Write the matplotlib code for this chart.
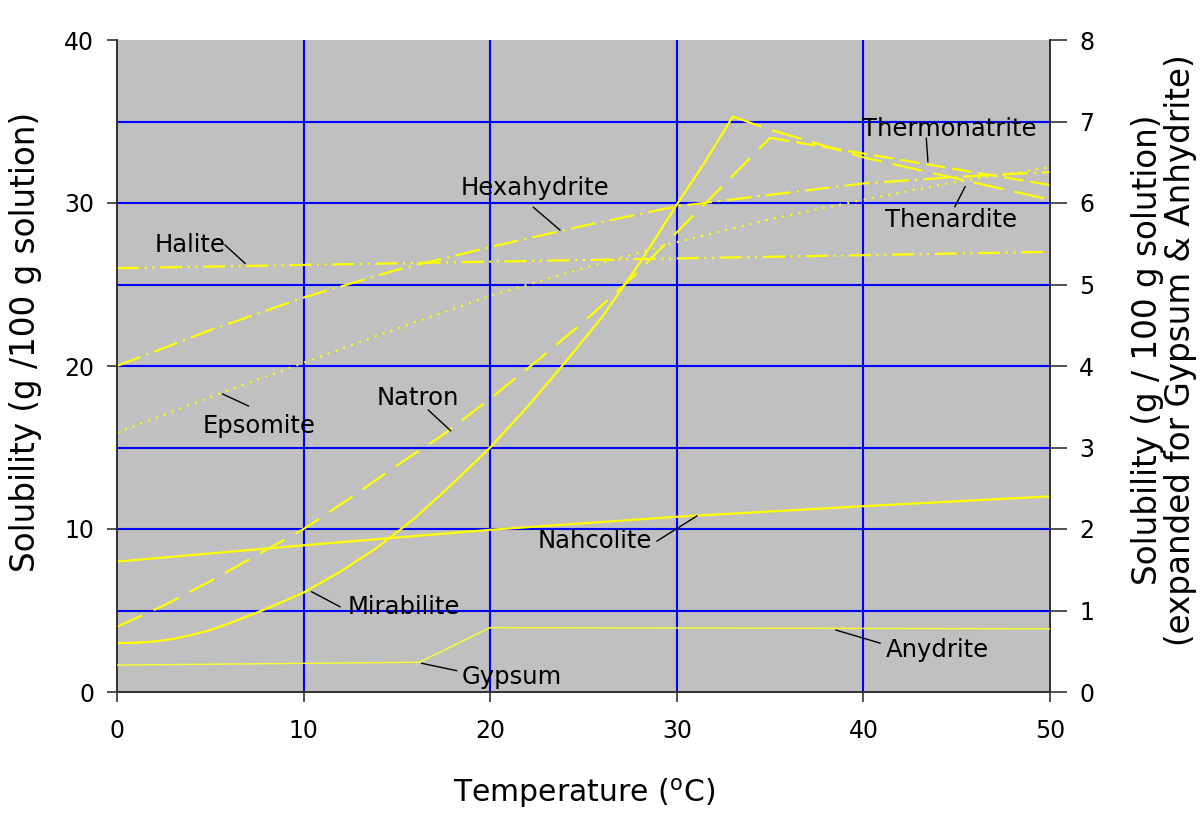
import matplotlib
matplotlib.use("Agg")
import matplotlib.pyplot as plt

plt.rcParams['font.family'] = ['DejaVu Sans']
plt.rcParams['lines.scale_dashes'] = False

# ---------------- data ----------------
x_ticks = [0, 10, 20, 30, 40, 50]
y_ticks_left = [0, 10, 20, 30, 40]
y_ticks_right = [0, 1, 2, 3, 4, 5, 6, 7, 8]

mirabilite_T = [0, 1, 2, 3, 4, 5, 6, 7, 8, 9, 10, 12, 14, 16, 18, 20, 22, 24, 26, 28, 30, 31.5, 33]
mirabilite_S = [3.0, 3.02, 3.1, 3.25, 3.5, 3.8, 4.2, 4.65, 5.1, 5.6, 6.1, 7.4, 8.9, 10.7, 12.8, 15.0,
                17.5, 20.2, 23.0, 26.3, 29.9, 32.5, 35.3]

natron_T = [0, 2.5, 5, 7.5, 10, 12.5, 15, 17.5, 20, 22.5, 25, 27.5, 30, 32.5, 35]
natron_S = [4.0, 5.3, 6.8, 8.4, 10.0, 11.9, 13.9, 15.8, 18.0, 20.3, 22.7, 25.3, 28.2, 31.1, 34.0]

thermonatrite_T = [35, 50]
thermonatrite_S = [34.0, 31.1]

thenardite_T = [33, 35, 40, 45, 50]
thenardite_S = [35.3, 34.5, 32.8, 31.5, 30.2]

hexahydrite_T = [0, 5, 10, 15, 20, 25, 30, 35, 40, 45, 50]
hexahydrite_S = [20.0, 22.2, 24.2, 25.9, 27.3, 28.6, 29.8, 30.5, 31.2, 31.6, 31.9]

epsomite_T = [0, 5, 10, 15, 20, 25, 30, 35, 40, 45, 50]
epsomite_S = [15.9, 18.1, 20.2, 22.3, 24.3, 26.0, 27.6, 29.0, 30.2, 31.3, 32.2]

halite_T = [0, 25, 50]
halite_S = [26.0, 26.5, 27.0]

nahcolite_T = [0, 10, 20, 30, 40, 50]
nahcolite_S = [8.0, 9.0, 9.95, 10.75, 11.4, 12.0]

# right (expanded) axis
gypsum_T = [0, 16.2, 20]
gypsum_S = [0.33, 0.365, 0.79]

anhydrite_T = [20, 50]
anhydrite_S = [0.79, 0.775]

# label text, text anchor (T, S), leader start, leader end (left-axis data units)
labels = [
    ("Thermonatrite", (39.9, 34.08), (43.37, 33.97), (43.46, 32.53)),
    ("Thenardite",    (41.16, 28.55), (44.9, 29.77), (45.45, 31.0)),
    ("Hexahydrite",   (18.42, 30.49), (22.31, 29.74), (23.74, 28.34)),
    ("Halite",        (2.0, 27.01), (5.79, 27.42), (6.86, 26.3)),
    ("Epsomite",      (4.59, 15.87), (5.66, 18.28), (7.04, 17.55)),
    ("Natron",        (13.92, 17.61), (16.68, 17.3), (17.88, 16.03)),
    ("Mirabilite",    (12.34, 4.79), (10.43, 6.15), (11.95, 5.23)),
    ("Gypsum",        (18.47, 0.49), (16.33, 1.76), (18.2, 1.31)),
    ("Nahcolite",     (22.56, 8.83), (28.94, 9.26), (31.08, 10.8)),
    ("Anydrite",      (41.2, 2.15), (38.53, 3.80), (40.89, 3.0)),
]

# ---------------- figure ----------------
W, H = 1200, 818
fig = plt.figure(figsize=(W / 100, H / 100), dpi=100)
ax = fig.add_axes([117 / W, (H - 692) / H, (1050 - 117) / W, (692 - 40) / H])
ax.set_facecolor('#C0C0C0')
ax.set_xlim(0, 50)
ax.set_ylim(0, 40)
ax.set_xticks(x_ticks)
ax.set_yticks(y_ticks_left)

# blue grid (inner lines only)
grid_kw = dict(color='#0000FF', lw=1.5, zorder=1)
for xv in x_ticks[1:-1]:
    ax.axvline(xv, **grid_kw)
for yv in [5, 10, 15, 20, 25, 30, 35]:
    ax.axhline(yv, **grid_kw)

yel = '#FFFF00'
lw = 1.6
ax.plot(mirabilite_T, mirabilite_S, color=yel, lw=lw, zorder=3)
ax.plot(nahcolite_T, nahcolite_S, color=yel, lw=lw, zorder=3)
ax.plot(natron_T, natron_S, color=yel, lw=lw, dashes=(20, 9), zorder=3)
ax.plot(thermonatrite_T, thermonatrite_S, color=yel, lw=lw, dashes=(14, 5), zorder=3)
ax.plot(thenardite_T, thenardite_S, color=yel, lw=lw, dashes=(22, 8), zorder=3)
ax.plot(hexahydrite_T, hexahydrite_S, color=yel, lw=lw, dashes=(18, 4.5, 1.5, 4.5), zorder=3)
ax.plot(halite_T, halite_S, color=yel, lw=lw, dashes=(16, 4, 1.5, 4, 1.5, 4), zorder=3)
ax.plot(epsomite_T, epsomite_S, color=yel, lw=lw, dashes=(1.5, 4.5), zorder=3)

for text, (tx, ty), (x0, y0), (x1, y1) in labels:
    ax.text(tx, ty, text, fontsize=17.5, ha='left', va='baseline', color='black', zorder=5)
    ax.plot([x0, x1], [y0, y1], color='black', lw=1.0, zorder=5)

spine_c = '#333333'
for s in ['left', 'bottom', 'right']:
    ax.spines[s].set_color(spine_c)
    ax.spines[s].set_linewidth(1.3)
ax.spines['top'].set_visible(False)

ax.tick_params(axis='x', direction='out', length=7.5, width=1.2, color=spine_c,
               labelsize=17, pad=12)
ax.tick_params(axis='y', direction='out', length=7.5, width=1.2, color=spine_c,
               labelsize=17, pad=9)

ax2 = ax.twinx()
ax2.set_ylim(0, 8)
ax2.set_yticks(y_ticks_right)
ax2.plot(gypsum_T, gypsum_S, color='#FFFF30', lw=1.0, zorder=3)
ax2.plot(anhydrite_T, anhydrite_S, color='#FFFF30', lw=1.0, zorder=3)
for s in ['left', 'bottom', 'right']:
    ax2.spines[s].set_color(spine_c)
    ax2.spines[s].set_linewidth(1.3)
ax2.spines['top'].set_visible(False)
ax2.tick_params(axis='y', direction='out', length=12, width=1.2, color=spine_c,
                labelsize=17, pad=9)

fig.text(584 / W, (H - 801.7) / H, 'Temperature ($^{\\rm o}$C)', fontsize=21.5,
         ha='center', va='baseline')
fig.text(26 / W, (H - 342) / H, 'Solubility (g /100 g solution)', fontsize=23.5,
         rotation=90, ha='center', va='center')
fig.text(1164 / W, (H - 350) / H,
         'Solubility (g / 100 g solution)\n(expanded for Gypsum & Anhydrite)',
         fontsize=23.5, rotation=90, ha='center', va='center', multialignment='center',
         linespacing=1.0)

fig.savefig('out.png', dpi=100)
